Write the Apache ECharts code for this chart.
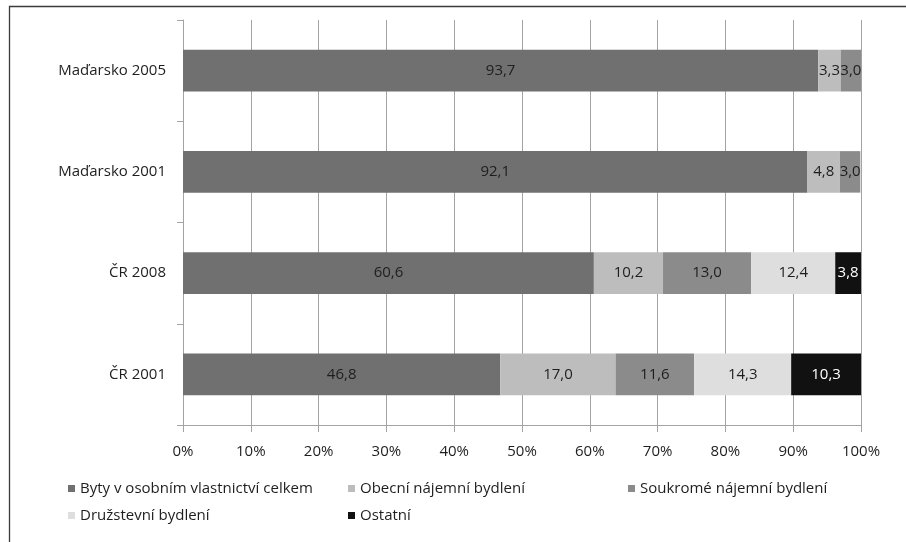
<!DOCTYPE html>
<html>
<head>
<meta charset="utf-8">
<script src="https://cdn.jsdelivr.net/npm/echarts@6/dist/echarts.min.js"></script>
<style>
  html, body { margin: 0; padding: 0; background: #fff; }
  #chart { width: 906px; height: 542px; }
</style>
</head>
<body>
<div id="chart"></div>
<script>
// Struktura bytového fondu podle právního důvodu užívání (%)
const categories = ['ČR 2001', 'ČR 2008', 'Maďarsko 2001', 'Maďarsko 2005'];
const seriesNames = [
  'Byty v osobním vlastnictví celkem',
  'Obecní nájemní bydlení',
  'Soukromé nájemní bydlení',
  'Družstevní bydlení',
  'Ostatní'
];
const vlastnictvi = [46.8, 60.6, 92.1, 93.7];
const obecni      = [17.0, 10.2, 4.8, 3.3];
const soukrome    = [11.6, 13.0, 3.0, 3.0];
const druzstevni  = [14.3, 12.4, null, null];
const ostatni     = [10.3, 3.8, null, null];
const xTicks = [0, 10, 20, 30, 40, 50, 60, 70, 80, 90, 100];

const seriesData = [vlastnictvi, obecni, soukrome, druzstevni, ostatni];
const colors = ['#707070', '#bdbdbd', '#8b8b8b', '#dedede', '#111111'];
const labelColors = ['#1e1e1e', '#1e1e1e', '#1e1e1e', '#1e1e1e', '#ffffff'];
const FONT = '"Open Sans", sans-serif';
const FS = 15;
const axisGray = '#a3a3a3';

const legendPos = [
  { left: 68, top: 481 },
  { left: 348, top: 481 },
  { left: 628, top: 481 },
  { left: 68, top: 508 },
  { left: 348, top: 508 }
];

const chart = echarts.init(document.getElementById('chart'), null, { renderer: 'canvas' });

chart.setOption({
  animation: false,
  backgroundColor: '#ffffff',
  color: colors,
  graphic: [{
    type: 'rect',
    shape: { x: 9.5, y: 6.5, width: 920, height: 560 },
    style: { fill: 'none', stroke: '#3a3a3a', lineWidth: 1.3 },
    silent: true
  }],
  grid: { left: 183, right: 45, top: 20, bottom: 117, containLabel: false },
  legend: seriesNames.map((name, i) => ({
    data: [name],
    left: legendPos[i].left,
    top: legendPos[i].top,
    icon: 'rect',
    itemWidth: 7,
    itemHeight: 7,
    padding: 0,
    selectedMode: false,
    textStyle: { fontFamily: FONT, fontSize: FS, color: '#1e1e1e' }
  })),
  xAxis: {
    type: 'value',
    min: 0,
    max: 100,
    interval: 10,
    axisLine: { show: true, lineStyle: { color: axisGray, width: 1 } },
    axisTick: { show: true, length: 7, lineStyle: { color: axisGray } },
    splitLine: { show: true, lineStyle: { color: axisGray, width: 1 } },
    axisLabel: {
      margin: 19,
      fontFamily: FONT,
      fontSize: FS,
      color: '#1e1e1e',
      formatter: v => (xTicks.includes(v) ? v + '%' : '')
    }
  },
  yAxis: {
    type: 'category',
    data: categories,
    axisLine: { show: true, lineStyle: { color: axisGray, width: 1 } },
    axisTick: { show: true, length: 6, alignWithLabel: false, lineStyle: { color: axisGray } },
    splitLine: { show: false },
    axisLabel: {
      margin: 17,
      fontFamily: FONT,
      fontSize: FS,
      color: '#1e1e1e'
    }
  },
  series: seriesNames.map((name, i) => ({
    name: name,
    type: 'bar',
    stack: 'celkem',
    barCategoryGap: '59%',
    data: seriesData[i],
    itemStyle: { color: colors[i] },
    label: {
      show: true,
      position: 'inside',
      fontFamily: FONT,
      fontSize: FS,
      color: labelColors[i],
      formatter: p => (p.value == null ? '' : p.value.toFixed(1).replace('.', ','))
    }
  }))
});
</script>
</body>
</html>
